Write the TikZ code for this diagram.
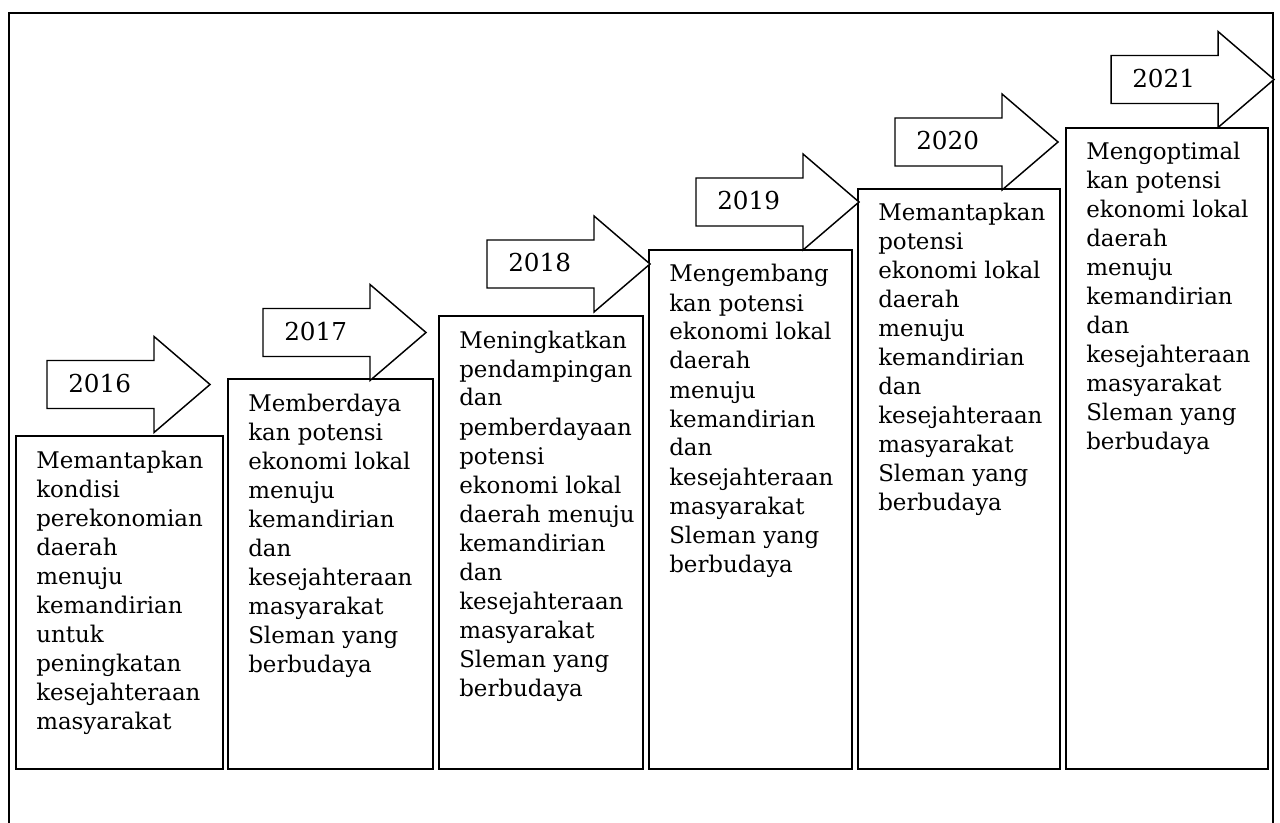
\documentclass[tikz,border=0pt]{standalone}
\usepackage{fontspec}
\setmainfont{DejaVu Serif}
\usetikzlibrary{calc,fit}
\newcommand\yeararrow[4]{% name, x0, yc, label
  \draw[arr] (#2,#3-24) -- (#2+107,#3-24) -- (#2+107,#3-48) -- (#2+163,#3)
    -- (#2+107,#3+48) -- (#2+107,#3+24) -- (#2,#3+24) -- cycle;
  \node[yearlbl] (#1) at (#2+21,#3+8) {#4};}
\newcommand\lines[1]{\begin{tabular}[t]{@{}l@{}}#1\end{tabular}}
\begin{document}
\begin{tikzpicture}[x=0.75pt,y=-0.75pt,
  box/.style={draw, line width=1.5pt, inner sep=0pt},
  arr/.style={draw, line width=1.1pt, line join=miter, fill=white},
  desc/.style={anchor=base west, inner sep=0pt,
    font=\fontsize{17.2}{21.75}\selectfont},
  yearlbl/.style={anchor=base west, inner sep=0pt, font=\fontsize{18.5}{20}\selectfont}]
\useasboundingbox (0,0) rectangle (1280,823);
\clip (0,0) rectangle (1280,823);
\draw[line width=1.5pt] (9,830) -- (9,13) -- (1273,13) -- (1273,830);

\node[box, fit={(16,436) (223,769)}] (b1) {};
\node[box, fit={(228,379) (433,769)}] (b2) {};
\node[box, fit={(439,316) (643,769)}] (b3) {};
\node[box, fit={(649,250) (852,769)}] (b4) {};
\node[box, fit={(858,189) (1060,769)}] (b5) {};
\node[box, fit={(1066,128) (1268,769)}] (b6) {};

\yeararrow{y1}{47}{384.5}{2016}
\yeararrow{y2}{263}{332.5}{2017}
\yeararrow{y3}{487}{264}{2018}
\yeararrow{y4}{696}{202}{2019}
\yeararrow{y5}{895}{142}{2020}
\yeararrow{y6}{1111}{79.5}{2021}

\node[desc] (t1) at ($(b1.north west)+(21,33)$) {\lines{Memantapkan\\kondisi\\perekonomian\\daerah\\menuju\\kemandirian\\untuk\\peningkatan\\kesejahteraan\\masyarakat}};
\node[desc] (t2) at ($(b2.north west)+(21,33)$) {\lines{Memberdaya\\kan potensi\\ekonomi lokal\\menuju\\kemandirian\\dan\\kesejahteraan\\masyarakat\\Sleman yang\\berbudaya}};
\node[desc] (t3) at ($(b3.north west)+(21,33)$) {\lines{Meningkatkan\\pendampingan\\dan\\pemberdayaan\\potensi\\ekonomi lokal\\daerah menuju\\kemandirian\\dan\\kesejahteraan\\masyarakat\\Sleman yang\\berbudaya}};
\node[desc] (t4) at ($(b4.north west)+(21,33)$) {\lines{Mengembang\\kan potensi\\ekonomi lokal\\daerah\\menuju\\kemandirian\\dan\\kesejahteraan\\masyarakat\\Sleman yang\\berbudaya}};
\node[desc] (t5) at ($(b5.north west)+(21,33)$) {\lines{Memantapkan\\potensi\\ekonomi lokal\\daerah\\menuju\\kemandirian\\dan\\kesejahteraan\\masyarakat\\Sleman yang\\berbudaya}};
\node[desc] (t6) at ($(b6.north west)+(21,33)$) {\lines{Mengoptimal\\kan potensi\\ekonomi lokal\\daerah\\menuju\\kemandirian\\dan\\kesejahteraan\\masyarakat\\Sleman yang\\berbudaya}};
\end{tikzpicture}
\end{document}
